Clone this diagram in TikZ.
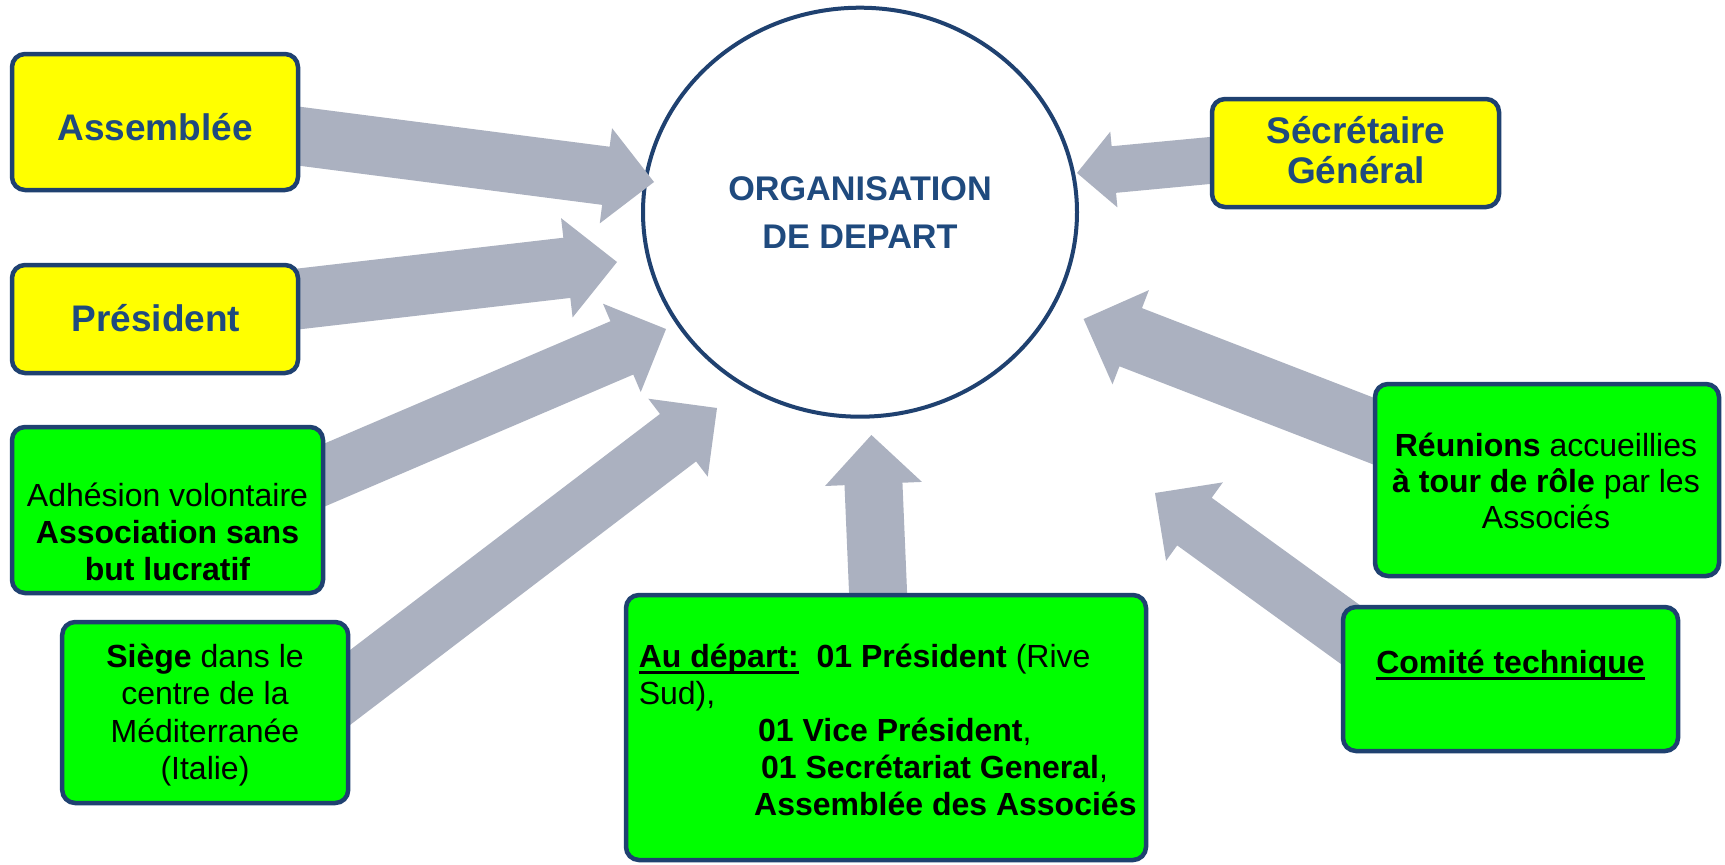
\documentclass[tikz,border=0pt]{standalone}
\usepackage{fontspec}
\setmainfont{Liberation Sans}
\usetikzlibrary{calc,shapes.geometric}
\definecolor{yel}{HTML}{FFFF00}
\definecolor{grn}{HTML}{00FF00}
\definecolor{bordc}{HTML}{1F4170}
\definecolor{txtblue}{HTML}{1F4A7E}
\definecolor{arrgray}{HTML}{ABB1C0}
\newsavebox\ulbox
\newcommand\myul[1]{\sbox\ulbox{#1}\rlap{\rule[-6.3pt]{\wd\ulbox}{2.7pt}}\usebox\ulbox}
\newcommand\fatarrow[5]{%
  \coordinate (tmpH) at ($(#2)!#5!(#1)$);
  \fill[arrowfill] ($(#1)!#3!90:(#2)$) -- ($(tmpH)!#3!-90:(#1)$) -- ($(tmpH)!#4!-90:(#1)$)
    -- (#2) -- ($(tmpH)!#4!90:(#1)$) -- ($(tmpH)!#3!90:(#1)$) -- ($(#1)!#3!-90:(#2)$) -- cycle;}
\tikzset{
  arrowfill/.style={fill=arrgray},
  boxbase/.style={draw=bordc, line width=4.5pt, rounded corners=13pt, inner sep=0pt},
  ybox/.style={boxbase, fill=yel},
  gbox/.style={boxbase, fill=grn},
  orgc/.style={ellipse, draw=bordc, line width=4pt, fill=white, inner sep=0pt,
    minimum width=434pt, minimum height=409pt},
  ytxt/.style={text=txtblue, font=\fontsize{37}{40}\selectfont\bfseries, align=center, inner sep=0pt, anchor=base},
  otxt/.style={text=txtblue, font=\fontsize{34.2}{48.3}\selectfont\bfseries, align=center, inner sep=0pt, anchor=base},
  gtxt/.style={text=black, font=\fontsize{32}{37}\selectfont, align=center, inner sep=0pt, anchor=base},
}
\begin{document}
\begin{tikzpicture}[x=1pt,y=-1pt]
\useasboundingbox (0,0) rectangle (1725,865);
\fill[white] (0,0) rectangle (1725,865);
% central circle
\node[orgc] (org) at (860,212.2) {};
\node[otxt] (orgT) at (860,248.3) {ORGANISATION\\DE DEPART};
% arrow end points
\coordinate (sA) at (280,133.7);   \coordinate (tA) at (654,182);
\coordinate (sP) at (280,301.1);   \coordinate (tP) at (617,262);
\coordinate (sH) at (300,485.5);   \coordinate (tH) at (666,329);
\coordinate (sS) at (320,710.4);   \coordinate (tS) at (717,408);
\coordinate (sD) at (878.8,610);   \coordinate (tD) at (871.4,435);
\coordinate (sG) at (1230,158.6);  \coordinate (tG) at (1077,173);
\coordinate (sR) at (1395,439.4);  \coordinate (tR) at (1083.6,319);
\coordinate (sC) at (1381.4,657);  \coordinate (tC) at (1155,493);
\fatarrow{sA}{tA}{29.3pt}{48pt}{48.5pt}
\fatarrow{sP}{tP}{30.3pt}{50pt}{50.5pt}
\fatarrow{sH}{tH}{29pt}{48pt}{48pt}
\fatarrow{sS}{tS}{29.8pt}{49pt}{49pt}
\fatarrow{sD}{tD}{29pt}{48.5pt}{49pt}
\fatarrow{sG}{tG}{23.4pt}{38pt}{37pt}
\fatarrow{sR}{tR}{31.2pt}{50.5pt}{50.5pt}
\fatarrow{sC}{tC}{29.4pt}{48.4pt}{48.7pt}
% boxes
\node[ybox, minimum width=286pt, minimum height=136pt] (assem) at (155,122) {};
\node[ybox, minimum width=286pt, minimum height=108pt] (pres) at (155,319) {};
\node[gbox, minimum width=311pt, minimum height=166pt] (adh) at (167.5,510) {};
\node[gbox, minimum width=286pt, minimum height=181pt] (siege) at (205.2,712.5) {};
\node[ybox, minimum width=287pt, minimum height=108pt] (secr) at (1355.5,153) {};
\node[gbox, minimum width=344pt, minimum height=192pt] (reun) at (1547,480) {};
\node[gbox, minimum width=335pt, minimum height=144pt] (comite) at (1510.5,679) {};
\node[gbox, minimum width=520pt, minimum height=265pt] (depart) at (886,727.5) {};
% texts (base anchor = baseline of the last line)
\node[ytxt] (assemT) at (155,140) {Assemblée};
\node[ytxt] (presT) at (156,331.7) {Président};
\node[ytxt] (secrT) at (1356,183.3) {Sécrétaire\\Général};
\node[gtxt] (adhT) at (167.5,580) {Adhésion volontaire\\\textbf{Association sans}\\\textbf{but lucratif}};
\node[gtxt, font=\fontsize{32}{37.5}\selectfont] (siegeT) at (205,779.5) {\textbf{Siège} dans le\\centre de la\\Méditerranée\\(Italie)};
\node[gtxt, font=\fontsize{32}{36}\selectfont] (reunT) at (1546,528.5) {\textbf{Réunions} accueillies\\\textbf{à tour de rôle} par les\\Associés};
\node[gtxt] (comT) at (1510.5,673.3) {\myul{\textbf{Comité technique}}};
\node[gtxt, align=left, anchor=base west] (depT) at (638.6,815.3)
  {\myul{\textbf{Au départ:}}\textbf{\ \ 01 Président} (Rive\\
   Sud),\\
   \hspace*{119.4pt}\textbf{01 Vice Président},\\
   \hspace*{122.4pt}\textbf{01 Secrétariat General},\\
   \hspace*{115.4pt}\textbf{Assemblée des Associés}};
\end{tikzpicture}
\end{document}
